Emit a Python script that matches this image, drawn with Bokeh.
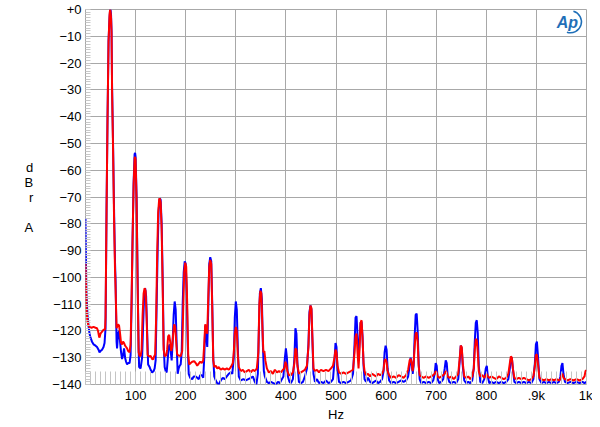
from bokeh.plotting import figure
from bokeh.models import FixedTicker, Range1d, Label
from bokeh.embed import file_html
from bokeh.resources import INLINE

# ---- data (Hz, dBrA) ----
blue_points = [
    (0, -78), (1, -95), (2, -107), (4, -114), (6, -118), (8, -121), (10, -122.5), (13, -124), (16, -125),
    (20, -125.5), (23, -126), (26, -127), (28, -128), (30, -127.5), (33, -127), (36, -126), (38, -124.5),
    (40, -119), (42, -75), (44, -40), (46, -12), (48, -3), (49, -0.5), (50, 0), (51, -2), (52, -8), (53, -28),
    (55, -50), (57, -75), (59, -95), (60, -101), (62, -124), (63, -126.5), (65, -121), (67, -120), (69, -124),
    (71, -128), (73, -130.5), (75, -129), (77, -126.5), (79, -130), (81, -131.5), (83, -132.5), (85, -132),
    (88, -132), (90, -129), (92, -110), (94, -85), (96, -65), (98, -54), (99, -53.5), (100, -55), (102, -70),
    (104, -100), (106, -126), (107, -133.5), (110, -134), (113, -130), (115, -118), (117, -107), (119, -104),
    (121, -107), (123, -120), (125, -132.5), (128, -133.5), (130, -134.5), (133, -135.5), (136, -135),
    (138, -134), (140, -131), (142, -110), (144, -90), (146, -75), (148, -70.5), (150, -71), (152, -80),
    (154, -100), (156, -125), (158, -133.5), (160, -135), (162, -135.5), (164, -131), (166, -126), (168, -125),
    (170, -127.5), (172, -131), (174, -124), (176, -114), (178, -109), (180, -112), (182, -125), (184, -136),
    (186, -134), (188, -133), (190, -132.5), (192, -128), (194, -110), (196, -98), (198, -94), (200, -95),
    (202, -105), (204, -125), (206, -136), (209, -137.5), (213, -138), (216, -137), (220, -137), (223, -137.5),
    (226, -138), (229, -136.5), (232, -136.5), (235, -137.5), (237, -130), (239, -118), (241, -122), (243, -126),
    (245, -112), (247, -95), (249, -92.5), (251, -94), (253, -110), (255, -130), (257, -137), (260, -138.5),
    (263, -139.5), (266, -140), (270, -138.5), (274, -137.5), (278, -138), (282, -137), (286, -136),
    (290, -135.5), (293, -136), (296, -130), (298, -115), (300, -109), (302, -112), (304, -126), (306, -137),
    (310, -138.5), (315, -138), (320, -138.5), (325, -138), (330, -137.5), (334, -137), (338, -139), (341, -140),
    (344, -136), (346, -120), (348, -106), (350, -104), (352, -108), (354, -125), (356, -135), (358, -137),
    (362, -139), (366, -139.5), (370, -139), (375, -139.5), (380, -140), (384, -139), (388, -139.5), (392, -138),
    (395, -137), (398, -130), (400, -126.5), (402, -130), (404, -137), (407, -139), (410, -139.5), (414, -138),
    (417, -130), (419, -119), (421, -121), (423, -132), (426, -139), (430, -139.5), (434, -139), (438, -137),
    (442, -134), (445, -125), (447, -113), (449, -110.5), (451, -112), (453, -124), (455, -136), (458, -139),
    (462, -138), (466, -139.5), (470, -139), (475, -139.5), (480, -138.5), (485, -139.5), (490, -139),
    (494, -138), (497, -131), (499, -124.5), (501, -126), (503, -134), (506, -139), (510, -139.5), (515, -139),
    (520, -139.5), (525, -139), (530, -138.5), (534, -136), (537, -125), (539, -115), (541, -114.5), (543, -122),
    (545, -131), (547, -124), (549, -117), (551, -116.5), (553, -122), (555, -133), (557, -138), (560, -139),
    (564, -137.5), (568, -139), (572, -139.5), (576, -139), (580, -138.5), (584, -139.5), (588, -139),
    (592, -138), (595, -135), (597, -128), (599, -125.5), (601, -127), (603, -134), (606, -138.5), (610, -139.5),
    (615, -139), (620, -139.5), (625, -139), (630, -138.5), (635, -139), (640, -138.5), (644, -137), (647, -133),
    (649, -130), (651, -132), (653, -136), (655, -133), (657, -122), (659, -114), (661, -113.5), (663, -120),
    (665, -132), (667, -138), (670, -139.5), (675, -139), (680, -139.5), (685, -139), (690, -139.5),
    (694, -138.5), (697, -136), (699, -132), (701, -133), (703, -138), (706, -139.5), (710, -139), (714, -138),
    (717, -134), (719, -131), (721, -132), (723, -137), (726, -139), (730, -139.5), (735, -139), (740, -139.5),
    (744, -138), (747, -131), (749, -125.5), (751, -126.5), (753, -133), (756, -138.5), (760, -139.5),
    (764, -139), (768, -139.5), (772, -138.5), (775, -134), (777, -124), (779, -117), (781, -116), (783, -121),
    (785, -133), (788, -139), (792, -139.5), (796, -138), (799, -134), (801, -133), (803, -137), (806, -139.5),
    (810, -139), (815, -139.5), (820, -139), (825, -139.5), (830, -139), (835, -139.5), (840, -139), (844, -138),
    (847, -134), (849, -130.5), (851, -130), (853, -134), (856, -139), (860, -139.5), (865, -139), (870, -139.5),
    (875, -139), (880, -139.5), (885, -139), (890, -139.5), (894, -138), (897, -132), (899, -125), (901, -124),
    (903, -129), (906, -138), (910, -139.5), (915, -139), (920, -139.5), (925, -139), (930, -139.5), (935, -139),
    (940, -139.5), (945, -139), (948, -137), (950, -133), (952, -132), (954, -136), (957, -139), (962, -139.5),
    (968, -139), (974, -139.5), (980, -139), (986, -139.5), (992, -139), (996, -139.5), (1000, -139),
]

red_points = [
    (0, -95), (1, -103), (2, -112), (4, -116.5), (6, -118), (8, -118.5), (12, -118.8), (16, -118.5),
    (20, -118.8), (23, -119), (25, -120), (27, -122), (28, -122.5), (30, -121), (32, -120.5), (35, -119.8),
    (37, -119.5), (39, -119.5), (40, -115), (42, -75), (44, -40), (46, -12), (48, -2), (49, 0), (50, -1),
    (51, -3), (52, -9), (53, -30), (55, -52), (57, -78), (59, -98), (60, -104), (62, -119), (63, -118.5),
    (65, -117.5), (67, -118), (69, -121), (71, -124.5), (73, -125), (75, -124), (77, -124.5), (79, -125.5),
    (81, -126), (83, -126.5), (85, -127.5), (88, -128), (90, -125), (92, -108), (94, -85), (96, -66),
    (98, -55.5), (99, -55), (100, -56), (102, -72), (104, -102), (106, -128), (108, -129.4), (110, -129.3),
    (112, -127), (114, -114), (116, -106), (118, -104), (120, -105), (122, -115), (124, -129), (127, -129.5),
    (130, -129.3), (133, -130.5), (135, -130.6), (137, -129.5), (139, -128.8), (141, -115), (143, -92),
    (145, -76), (147, -71), (148, -70.5), (150, -72), (152, -82), (154, -103), (156, -127), (158, -129.4),
    (161, -129.2), (163, -127), (165, -122), (167, -121.5), (169, -124), (171, -127.5), (173, -126), (175, -121),
    (177, -117.5), (179, -118.5), (181, -124), (183, -128.8), (186, -129.2), (190, -129.4), (193, -127.5),
    (195, -112), (197, -98), (199, -94.5), (201, -96), (203, -110), (205, -129), (207, -132.5), (210, -132),
    (213, -131.5), (217, -131.3), (220, -132), (223, -133), (226, -132.2), (229, -131.5), (232, -132),
    (235, -131), (237, -125), (239, -117.5), (241, -120), (243, -121), (245, -108), (247, -96), (249, -93.5),
    (251, -95), (253, -112), (255, -131), (257, -133.5), (260, -133), (263, -134), (266, -133.5), (270, -134.5),
    (274, -134), (278, -134.5), (282, -134), (286, -134.5), (290, -133.5), (294, -132), (296, -128), (298, -121),
    (300, -118.5), (302, -120), (304, -129), (306, -133.5), (310, -135), (314, -134.5), (318, -135.5),
    (322, -135), (326, -134.5), (330, -135.5), (334, -134.5), (338, -135), (342, -134), (345, -128), (347, -110),
    (349, -105), (351, -106), (353, -118), (355, -128), (357, -127.5), (359, -131), (362, -134), (366, -135.5),
    (370, -135), (374, -136), (378, -134.5), (382, -135.5), (386, -135), (390, -135.5), (394, -134.5),
    (397, -134), (399, -131.5), (401, -132.5), (403, -135), (406, -136.5), (410, -136.5), (414, -135.5),
    (417, -132), (419, -126.5), (421, -127), (423, -133), (426, -136), (430, -135.5), (434, -135), (438, -134.5),
    (442, -133), (445, -126), (447, -114), (449, -110.5), (451, -111.5), (453, -123), (455, -134), (458, -135),
    (462, -134.5), (466, -135.5), (470, -134.5), (475, -135), (480, -134.5), (485, -135), (490, -134),
    (494, -133), (497, -130), (499, -127), (501, -128), (503, -133), (506, -135.5), (510, -136), (515, -135.5),
    (520, -136), (525, -135.5), (530, -135), (534, -134.5), (537, -128), (539, -122), (541, -121), (543, -128),
    (545, -134), (547, -127), (549, -117), (551, -116), (553, -123), (555, -132), (557, -135), (560, -136.5),
    (564, -136), (568, -137), (572, -136), (576, -136.5), (580, -137), (584, -136), (588, -136.5), (592, -136),
    (595, -134.5), (597, -131), (599, -130.5), (601, -131.5), (603, -135), (606, -136.5), (610, -137.5),
    (615, -137), (620, -137.5), (625, -136.5), (630, -137), (635, -137.5), (640, -136.5), (644, -134.5),
    (647, -131), (649, -130.4), (651, -132), (653, -135), (655, -132), (657, -126), (659, -121), (661, -120.5),
    (663, -124), (665, -133), (667, -136.5), (670, -137), (675, -137.5), (680, -137), (685, -137.5), (690, -137),
    (694, -136.5), (697, -136), (699, -135), (701, -135.5), (703, -137), (706, -137.5), (710, -137),
    (714, -136.5), (717, -136), (719, -135), (721, -135.5), (723, -137), (726, -137.5), (730, -137), (735, -138),
    (740, -137), (744, -136), (747, -130), (749, -125.5), (751, -126), (753, -132), (756, -137), (760, -137.5),
    (764, -137), (768, -138), (772, -137), (775, -134), (777, -127), (779, -123), (781, -123.5), (783, -128),
    (785, -135), (788, -137), (792, -136.5), (796, -137.5), (799, -136.5), (801, -136), (803, -137),
    (806, -137.5), (810, -137), (815, -137.5), (820, -138), (825, -137), (830, -137.5), (835, -138),
    (840, -137.5), (844, -136), (847, -132), (849, -129.5), (851, -130), (853, -134), (856, -137.5), (860, -138),
    (865, -137.5), (870, -138), (875, -137.5), (880, -138), (885, -138.5), (890, -138), (894, -137), (897, -133),
    (899, -129), (901, -128.8), (903, -132), (906, -137.5), (910, -138), (915, -138.5), (920, -138),
    (925, -138.5), (930, -138), (935, -138.5), (940, -138), (945, -138.5), (948, -138), (950, -136.5),
    (952, -136), (954, -137.5), (957, -138), (962, -138.5), (968, -138), (974, -138.5), (980, -138),
    (986, -138.5), (992, -138), (996, -137), (998, -135), (1000, -134.7),
]

x_ticks = [100, 200, 300, 400, 500, 600, 700, 800, 900, 1000]
x_tick_labels = {900: ".9k", 1000: "1k"}
y_ticks = [0, -10, -20, -30, -40, -50, -60, -70, -80, -90, -100, -110, -120, -130, -140]
y_tick_labels = {0: "+0"}
x_minor = list(range(0, 1001, 10))
y_minor = list(range(-140, 1, 1))
y_title = "d\nB\nr\n\nA"
x_title = "Hz"

FONT = "Liberation Sans"

p = figure(width=592, height=424, output_backend="svg", toolbar_location=None,
           x_range=Range1d(0, 1000), y_range=Range1d(-140, 0),
           min_border_left=85, min_border_right=6, min_border_top=9, min_border_bottom=37)
p.background_fill_color = "white"
p.border_fill_color = "white"
p.outline_line_color = "#a8a8a8"
p.outline_line_width = 1

xt = FixedTicker(ticks=x_ticks, minor_ticks=x_minor)
yt = FixedTicker(ticks=y_ticks, minor_ticks=y_minor)
p.xaxis.ticker = xt
p.yaxis.ticker = yt
p.xgrid.ticker = xt
p.ygrid.ticker = yt
p.xaxis.major_label_overrides = {k: v for k, v in x_tick_labels.items()}
p.yaxis.major_label_overrides = {k: v for k, v in y_tick_labels.items()}

for ax in (p.xaxis, p.yaxis):
    ax.axis_line_color = None
    ax.major_tick_in = 0
    ax.major_tick_out = 0
    ax.minor_tick_out = 0
    ax.major_label_text_font = FONT
    ax.major_label_text_font_size = "13px"
    ax.major_label_text_color = "black"
    ax.axis_label_text_font = FONT
    ax.axis_label_text_font_size = "13px"
    ax.axis_label_text_font_style = "normal"
    ax.axis_label_text_color = "black"
p.xaxis.minor_tick_in = 13
p.xaxis.minor_tick_line_color = "#c4c4c4"
p.yaxis.minor_tick_in = 5
p.yaxis.minor_tick_line_color = "#c8c8c8"
p.xaxis.major_label_standoff = 3
p.yaxis.major_label_standoff = 4
p.xaxis.axis_label = x_title
p.xaxis.axis_label_standoff = 1
p.yaxis.axis_label = y_title
p.yaxis.axis_label_orientation = "horizontal"
p.yaxis.axis_label_standoff = 16
p.yaxis.axis_label_text_line_height = 1.0

for g in (p.xgrid, p.ygrid):
    g.grid_line_color = "#a8a8a8"
    g.grid_line_width = 1
    g.grid_line_alpha = 1.0

bx = [pt[0] for pt in blue_points]
by = [pt[1] for pt in blue_points]
rx = [pt[0] for pt in red_points]
ry = [pt[1] for pt in red_points]
p.line(bx, by, line_color="#0000ff", line_width=2)
p.line(rx, ry, line_color="#ff0000", line_width=2)

# Ap logo
p.add_layout(Label(x=962, y=-4.9, text="Ap", text_font=FONT, text_font_size="16px",
                   text_font_style="bold italic", text_color="#1f6fb8",
                   text_align="center", text_baseline="middle"))
p.arc(x=[968], y=[-4.6], radius=11, radius_units="screen", start_angle=-1.9, end_angle=1.3,
      line_color="#1f6fb8", line_width=1.5)

open("out.html", "w").write(file_html(p, INLINE))
